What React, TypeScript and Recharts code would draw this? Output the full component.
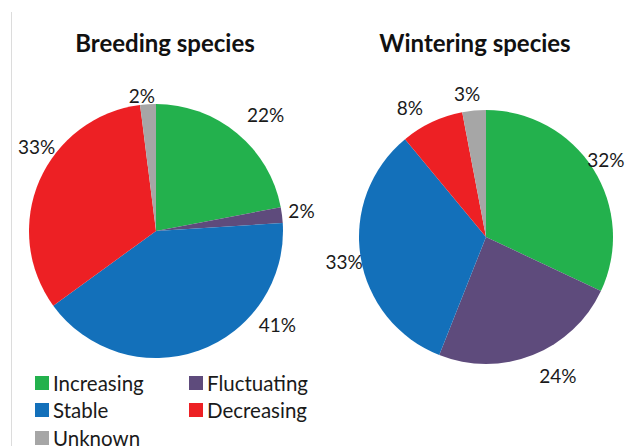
import React from 'react';
import { PieChart, Pie, Cell, Legend } from 'recharts';

const categories = ['Increasing', 'Fluctuating', 'Stable', 'Decreasing', 'Unknown'];
const breedingValues = [22, 2, 41, 33, 2];
const winteringValues = [32, 24, 33, 8, 3];
const chartTitles = ['Breeding species', 'Wintering species'];
const colors = ['#23B14D', '#5E4B7C', '#1370BA', '#ED2024', '#A6A6A6'];

// label placement: angular nudge (degrees, clockwise) and distance from centre
const breedingLabelNudge = [3.6, -1, -32.7, 11.8, -2.4];
const breedingLabelRadius = [160, 147, 153, 146, 136];
const winteringLabelNudge = [-0.6, -5.8, -0.6, -5.3, -2.1];
const winteringLabelRadius = [143, 156, 144, 150, 145];

const FONT = 'Lato, "Open Sans", sans-serif';

const breedingData = categories.map((name, i) => ({ name, value: breedingValues[i] }));
const winteringData = categories.map((name, i) => ({ name, value: winteringValues[i] }));

const makeLabel = (nudge: number[], radius: number[]) => (props: any) => {
  const { cx, cy, midAngle, index, value } = props;
  const a = ((midAngle - nudge[index]) * Math.PI) / 180;
  const x = cx + radius[index] * Math.cos(a);
  const y = cy - radius[index] * Math.sin(a);
  return (
    <text
      x={x}
      y={y}
      textAnchor="middle"
      dominantBaseline="central"
      fontSize={19}
      fill="#1a1a1a"
      fontFamily={FONT}
    >
      {value}%
    </text>
  );
};

const LegendContent = () => (
  <div
    style={{
      display: 'grid',
      gridTemplateColumns: '154px 130px',
      gridAutoRows: '27.5px',
      fontFamily: FONT,
      fontSize: 20.5,
      color: '#1a1a1a',
    }}
  >
    {categories.map((c, i) => (
      <div key={c} style={{ display: 'flex', alignItems: 'center', whiteSpace: 'nowrap' }}>
        <span
          style={{
            display: 'inline-block',
            width: 14,
            height: 14,
            background: colors[i],
            marginRight: 4,
            flexShrink: 0,
          }}
        />
        <span>{c}</span>
      </div>
    ))}
  </div>
);

const titleStyle = (cx: number): React.CSSProperties => ({
  position: 'absolute',
  left: cx - 150,
  width: 300,
  top: 31,
  textAlign: 'center',
  fontFamily: FONT,
  fontWeight: 700,
  fontSize: 24,
  lineHeight: '24px',
  color: '#111',
});

export default function App() {
  return (
    <div style={{ position: 'absolute', left: 0, top: 0, width: 626, height: 446, background: '#fff' }}>
      <div style={{ position: 'absolute', left: 11, top: 12, width: 1, height: 434, background: '#dcdcdc' }} />
      <div style={titleStyle(165)}>{chartTitles[0]}</div>
      <div style={titleStyle(475)}>{chartTitles[1]}</div>
      <PieChart width={626} height={446} margin={{ top: 0, right: 0, bottom: 0, left: 0 }}>
        <Pie
          data={breedingData}
          dataKey="value"
          nameKey="name"
          cx={156}
          cy={231}
          outerRadius={127}
          startAngle={90}
          endAngle={-270}
          stroke="none"
          labelLine={false}
          label={makeLabel(breedingLabelNudge, breedingLabelRadius)}
          isAnimationActive={false}
        >
          {breedingData.map((d, i) => (
            <Cell key={d.name} fill={colors[i]} />
          ))}
        </Pie>
        <Pie
          data={winteringData}
          dataKey="value"
          nameKey="name"
          cx={486}
          cy={237}
          outerRadius={127}
          startAngle={90}
          endAngle={-270}
          stroke="none"
          labelLine={false}
          label={makeLabel(winteringLabelNudge, winteringLabelRadius)}
          isAnimationActive={false}
        >
          {winteringData.map((d, i) => (
            <Cell key={d.name} fill={colors[i]} />
          ))}
        </Pie>
        <Legend
          content={<LegendContent />}
          wrapperStyle={{ left: 35, top: 369, bottom: 'auto', width: 300 }}
        />
      </PieChart>
    </div>
  );
}
